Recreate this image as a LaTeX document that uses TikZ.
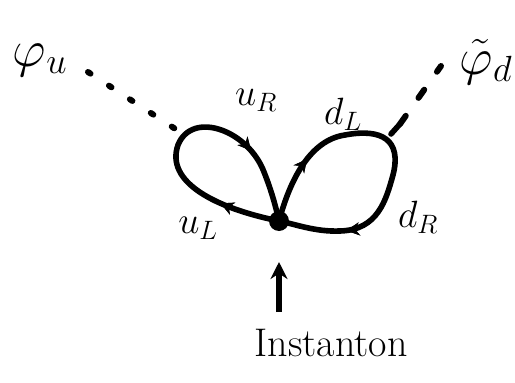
\RequirePackage{fix-cm}
\documentclass[tikz,border=0pt]{standalone}
\usetikzlibrary{decorations.markings,arrows.meta}
\begin{document}
\begin{tikzpicture}[x=1pt,y=-1pt,
  loopline/.style={line width=5.6pt, line cap=round},
  mid/.style={postaction={decorate},decoration={markings,mark=at position #1 with {\arrow{Stealth[length=13pt,width=13pt]}}}},
  lab/.style={font=\fontsize{38}{40}\selectfont, inner sep=0pt},
  field/.style={font=\fontsize{52}{56}\selectfont, inner sep=0pt},
  dots/.style={line width=6pt, line cap=round, dash pattern=on 3pt off 22pt}]
\useasboundingbox (0,0) rectangle (515,383);
\node[circle, fill, inner sep=0pt, minimum size=20pt] (v) at (279,221) {};
\coordinate (la) at (180,132);
\coordinate (ra) at (400,124);
% left loop
\draw[loopline, mid=0.2, mid=0.75] (v.center) .. controls (215,208) and (165,182) .. (178,145)
  .. controls (192,110) and (248,130) .. (264,172) .. controls (272,192) and (276,208) .. (v.center);
% right loop
\draw[loopline, mid=0.2, mid=0.8] (v.center) .. controls (290,180) and (310,140) .. (345,135)
  .. controls (382,128) and (402,140) .. (393,175) .. controls (386,200) and (378,230) .. (340,231)
  .. controls (315,232) and (295,224) .. (v.center);
\draw[loopline] (391,134) -- (ra);
% labels
\node[field] (phu) at (40,60) {$\varphi_u$};
\node[field] (phd) at (486,62) {$\tilde\varphi_d$};
\node[lab] (uR) at (256,100) {$u_R$};
\node[lab] (uL) at (198,228) {$u_L$};
\node[lab] (dL) at (343,114) {$d_L$};
\node[lab] (dR) at (418,217) {$d_R$};
% dashed lines
\draw[dots] (88,72) -- (la);
\draw[dots, dash pattern=on 10pt off 22pt] (ra) -- (441,66);
% instanton
\node[font=\fontsize{40}{44}\selectfont, inner sep=0pt] (inst) at (331,343) {Instanton};
\coordinate (at) at (279,262);
\draw[line width=6pt, -{Stealth[length=17pt,width=17pt]}] (279,312) -- (at);
\end{tikzpicture}
\end{document}
